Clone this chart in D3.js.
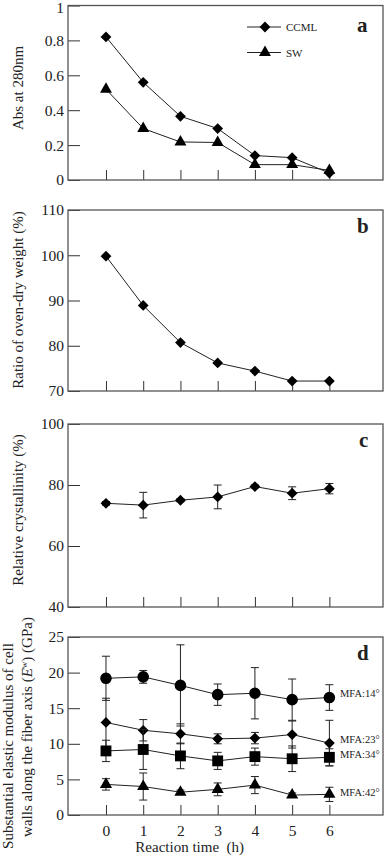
<!DOCTYPE html>
<html lang="en">
<head>
  <meta charset="UTF-8" />
  <title>Reaction time panels</title>
  <style>
    body { margin: 0; background: #fff; }
    text { font-family: "Liberation Serif", "Times New Roman", serif; fill: #222; }
  </style>
</head>
<body>
  <div id="chart"></div>
  <script src="https://d3js.org/d3.v7.min.js"></script>
  <script>
    // data
    var hours = [0, 1, 2, 3, 4, 5, 6]
    var absCCML = [0.82, 0.56, 0.365, 0.295, 0.14, 0.128, 0.04]
    var absSW = [0.52, 0.295, 0.218, 0.215, 0.088, 0.088, 0.055]
    var ovenDry = [99.8, 88.9, 80.7, 76.2, 74.4, 72.2, 72.2]
    var crystal = [74.0, 73.4, 75.0, 76.1, 79.5, 77.3, 78.8]
    var crystalErr = [0.6, 4.2, 0.5, 3.9, 0.5, 2.1, 1.7]
    var mfa14 = [19.2, 19.4, 18.2, 16.9, 17.1, 16.2, 16.5]
    var mfa14Err = [3.1, 0.9, 5.7, 1.5, 3.6, 2.9, 1.8]
    var mfa23 = [13.0, 11.9, 11.4, 10.7, 10.8, 11.3, 10.1]
    var mfa23Err = [3.4, 1.5, 1.4, 0.7, 0.8, 1.9, 3.2]
    var mfa34 = [9.0, 9.2, 8.3, 7.6, 8.2, 7.9, 8.1]
    var mfa34Err = [1.5, 2.8, 1.8, 1.2, 1.2, 1.8, 1.2]
    var mfa42 = [4.3, 4.0, 3.2, 3.6, 4.2, 2.8, 2.9]
    var mfa42Err = [0.8, 1.9, 0.3, 0.9, 1.2, 0.3, 1.0]

    var absTicks = [0, 0.2, 0.4, 0.6, 0.8, 1]
    var ovenTicks = [70, 80, 90, 100, 110]
    var crystalTicks = [40, 60, 80, 100]
    var modulusTicks = [0, 5, 10, 15, 20, 25]

    var width = 387, height = 860
    var left = 68, right = 383

    var svg = d3.select("#chart")
      .append("svg")
      .attr("width", width)
      .attr("height", height)

    var x = d3.scaleLinear()
      .domain([-1.02, 7.44])
      .range([left, right])

    var symDiamond = function (s) {
      return d3.symbol().type(d3.symbolSquare).size(s)()
    }

    // one framed panel with inward ticks
    var panel = function (yDomain, top, bottom, ticks, fmt, showX) {
      var y = d3.scaleLinear().domain(yDomain).range([bottom, top])
      var g = svg.append("g")

      g.append("g")
        .attr("transform", "translate(" + left + ",0)")
        .call(d3.axisLeft(y).tickValues(ticks).tickFormat(fmt).tickSizeInner(-12).tickSizeOuter(0).tickPadding(4))
        .call(function (a) { a.select(".domain").remove() })

      g.append("g")
        .attr("transform", "translate(0," + bottom + ")")
        .call(d3.axisBottom(x).tickValues(hours).tickFormat(showX ? d3.format("d") : "").tickSizeInner(-10).tickSizeOuter(0).tickPadding(9.5))
        .call(function (a) { a.select(".domain").remove() })

      g.selectAll(".tick line").attr("stroke", "#333")
      g.selectAll(".tick text").style("font-size", "15.5px").attr("fill", "#222")

      g.append("rect")
        .attr("x", left).attr("y", top)
        .attr("width", right - left).attr("height", bottom - top)
        .attr("fill", "none")
        .attr("stroke", "#555")
        .attr("stroke-width", 1.3)
      return { g: g, y: y }
    }

    var drawSeries = function (p, vals, errs, shape, size) {
      var pts = hours.map(function (h, i) { return { h: h, v: vals[i], e: errs ? errs[i] : 0 } })
      var line = d3.line()
        .x(function (d) { return x(d.h) })
        .y(function (d) { return p.y(d.v) })
      p.g.append("path")
        .datum(pts)
        .attr("d", line)
        .attr("fill", "none")
        .attr("stroke", "#222")
        .attr("stroke-width", 1)

      if (errs) {
        var eb = p.g.append("g").attr("stroke", "#222").attr("stroke-width", 1)
        pts.forEach(function (d) {
          var x0 = x(d.h), y1 = p.y(d.v + d.e), y2 = p.y(d.v - d.e)
          eb.append("line").attr("x1", x0).attr("x2", x0).attr("y1", y1).attr("y2", y2)
          eb.append("line").attr("x1", x0 - 4).attr("x2", x0 + 4).attr("y1", y1).attr("y2", y1)
          eb.append("line").attr("x1", x0 - 4).attr("x2", x0 + 4).attr("y1", y2).attr("y2", y2)
        })
      }

      p.g.selectAll(null)
        .data(pts)
        .enter().append("path")
        .attr("d", shape == "diamond" ? symDiamond(size) : d3.symbol().type(shape).size(size)())
        .attr("transform", function (d) {
          return "translate(" + x(d.h) + "," + p.y(d.v) + ")" + (shape == "diamond" ? " rotate(45)" : "")
        })
        .attr("fill", "#000")
    }

    var yLabel = function (txt, cx, cy) {
      return svg.append("text")
        .attr("transform", "translate(" + cx + "," + cy + ") rotate(-90)")
        .attr("text-anchor", "middle")
        .style("font-size", "15px")
        .text(txt)
    }

    var letter = function (t, xx, yy) {
      svg.append("text")
        .attr("x", xx).attr("y", yy)
        .style("font-size", "21px")
        .style("font-weight", "bold")
        .attr("fill", "#000")
        .text(t)
    }

    // panel a
    var pa = panel([0, 1], 5.5, 180, absTicks, function (d) { return d === 0 || d === 1 ? d : d3.format(".1f")(d) }, false)
    pa.g.selectAll(".tick text").filter(function (d) { return d === 1 }).attr("dy", "0.45em")
    drawSeries(pa, absCCML, null, "diamond", 58)
    drawSeries(pa, absSW, null, d3.symbolTriangle, 62)
    yLabel("Abs at 280nm", 23, 88)
    letter("a", 357, 32)

    // legend
    var legendRows = [{ name: "CCML", shape: "diamond", cy: 27 }, { name: "SW", shape: d3.symbolTriangle, cy: 52.5 }]
    legendRows.forEach(function (r) {
      svg.append("line").attr("x1", 247).attr("x2", 281).attr("y1", r.cy).attr("y2", r.cy)
        .attr("stroke", "#222").attr("stroke-width", 1)
      svg.append("path")
        .attr("d", r.shape == "diamond" ? symDiamond(58) : d3.symbol().type(r.shape).size(62)())
        .attr("transform", "translate(265," + r.cy + ")" + (r.shape == "diamond" ? " rotate(45)" : ""))
        .attr("fill", "#000")
      svg.append("text").attr("x", 286).attr("y", r.cy + 4).style("font-size", "11px").text(r.name)
    })

    // panel b
    var pb = panel([70, 110], 210, 391, ovenTicks, d3.format("d"), false)
    drawSeries(pb, ovenDry, null, "diamond", 58)
    yLabel("Ratio of oven-dry weight (%)", 23, 300)
    letter("b", 357, 233)

    // panel c
    var pc = panel([40, 100], 424, 607, crystalTicks, d3.format("d"), false)
    drawSeries(pc, crystal, crystalErr, "diamond", 58)
    yLabel("Relative crystallinity (%)", 23, 510)
    letter("c", 359, 447)

    // panel d
    var pd = panel([0, 25], 637, 815, modulusTicks, d3.format("d"), true)
    drawSeries(pd, mfa14, mfa14Err, d3.symbolCircle, 106)
    drawSeries(pd, mfa23, mfa23Err, "diamond", 58)
    drawSeries(pd, mfa34, mfa34Err, d3.symbolSquare, 118)
    drawSeries(pd, mfa42, mfa42Err, d3.symbolTriangle, 64)
    letter("d", 357, 660)

    var mfaLabels = [["MFA:14\u00b0", 697], ["MFA:23\u00b0", 743], ["MFA:34\u00b0", 758], ["MFA:42\u00b0", 796]]
    mfaLabels.forEach(function (m) {
      svg.append("text").attr("x", 340).attr("y", m[1]).style("font-size", "10.5px").text(m[0])
    })

    yLabel("Substantial elastic modulus of cell", 13, 746)
    var l2 = yLabel("", 32, 727)
    l2.append("tspan").text("walls  along the fiber axis (")
    l2.append("tspan").style("font-style", "italic").text("E")
    l2.append("tspan").attr("dy", -5).style("font-size", "9px").text("w")
    l2.append("tspan").attr("dy", 5).text(") (GPa)")

    svg.append("text")
      .attr("x", x(3) - 28)
      .attr("y", 852)
      .attr("text-anchor", "middle")
      .style("font-size", "15px")
      .style("white-space", "pre")
      .attr("xml:space", "preserve")
      .text("Reaction time  (h)")
  </script>
</body>
</html>
